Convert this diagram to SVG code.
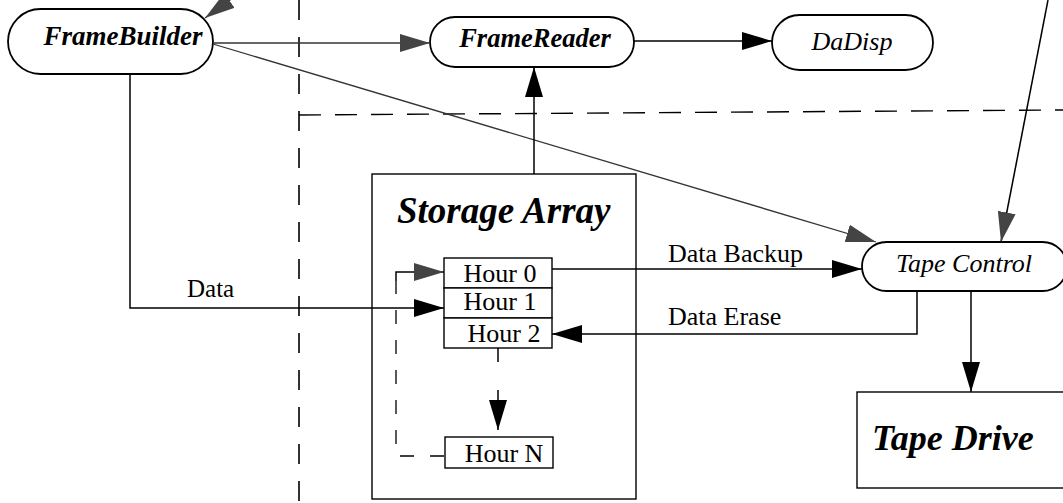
<svg xmlns="http://www.w3.org/2000/svg" width="1063" height="503" viewBox="0 0 1063 503">
<style>
.bg{fill:#fff}
.pill{fill:#fff;stroke:#000;stroke-width:1.8}
.box{fill:#fff;stroke:#000;stroke-width:1.4}
.ln{fill:none;stroke:#000;stroke-width:1.5}
.gl{fill:none;stroke:#333;stroke-width:1.3}
.dash{fill:none;stroke:#000;stroke-width:1.6;stroke-dasharray:20 17}
.dash2{fill:none;stroke:#000;stroke-width:1.4;stroke-dasharray:22 14}
.dash3{fill:none;stroke:#000;stroke-width:1.3;stroke-dasharray:14 16}
.bi{font-family:"Liberation Serif",serif;font-weight:bold;font-style:italic;fill:#000}
.it{font-family:"Liberation Serif",serif;font-style:italic;fill:#000}
.rg{font-family:"Liberation Serif",serif;fill:#000}
</style>
<defs>
<marker id="ab" markerUnits="userSpaceOnUse" markerWidth="30" markerHeight="18" viewBox="0 0 30 18" refX="30" refY="9" orient="auto"><path d="M0,0 L30,9 L0,18 z" fill="#000"/></marker>
<marker id="ag" markerUnits="userSpaceOnUse" markerWidth="30" markerHeight="18" viewBox="0 0 30 18" refX="30" refY="9" orient="auto"><path d="M0,0 L30,9 L0,18 z" fill="#444"/></marker>
</defs>
<rect class="bg" x="0" y="0" width="1063" height="503"/>
<g id="boundaries">
<line class="dash" x1="299" y1="0" x2="299" y2="503"/>
<line class="dash2" x1="299" y1="115" x2="1063" y2="110"/>
</g>
<g id="frame-builder">
<rect class="pill" x="8" y="9" width="205" height="65" rx="32.5"/>
<text class="bi" x="123" y="45" font-size="27" text-anchor="middle">FrameBuilder</text>
</g>
<g id="frame-reader">
<rect class="pill" x="430" y="17" width="204" height="50" rx="25"/>
<text class="bi" x="535" y="47" font-size="26.5" text-anchor="middle">FrameReader</text>
</g>
<g id="dadisp">
<rect class="pill" x="772" y="15" width="161" height="55" rx="27.5"/>
<text class="it" x="852" y="50" font-size="26" text-anchor="middle">DaDisp</text>
</g>
<g id="storage-array">
<rect class="box" x="372" y="174" width="264" height="325"/>
<text class="bi" x="397" y="223" font-size="37">Storage Array</text>
</g>
<g id="hour-0">
<rect class="box" x="444" y="258" width="108" height="30"/>
<text class="rg" x="500" y="282" font-size="26" text-anchor="middle">Hour 0</text>
</g>
<g id="hour-1">
<rect class="box" x="444" y="288" width="108" height="30"/>
<text class="rg" x="500" y="310" font-size="26" text-anchor="middle">Hour 1</text>
</g>
<g id="hour-2">
<rect class="box" x="444" y="318" width="108" height="30"/>
<text class="rg" x="504" y="342" font-size="26" text-anchor="middle">Hour 2</text>
</g>
<g id="hour-n">
<rect class="box" x="445" y="437" width="108" height="31"/>
<text class="rg" x="504" y="462" font-size="26" text-anchor="middle">Hour N</text>
</g>
<g id="tape-control">
<rect class="pill" x="862" y="242" width="205" height="49" rx="24.5"/>
<text class="it" x="964" y="272" font-size="26" text-anchor="middle">Tape Control</text>
</g>
<g id="tape-drive">
<rect class="box" x="857" y="392" width="220" height="96"/>
<text class="bi" x="872" y="450" font-size="36">Tape Drive</text>
</g>
<g id="connectors">
<line class="gl" x1="248" y1="-13" x2="205" y2="18" marker-end="url(#ag)"/>
<line class="gl" x1="213" y1="43" x2="430" y2="43" marker-end="url(#ag)"/>
<line class="gl" x1="213" y1="44" x2="876" y2="242" marker-end="url(#ag)"/>
<line class="ln" x1="634" y1="41" x2="772" y2="41" marker-end="url(#ab)"/>
<line class="ln" x1="534" y1="174" x2="534" y2="67" marker-end="url(#ab)"/>
<line class="ln" x1="1048" y1="0" x2="1001" y2="242" marker-end="url(#ag)"/>
<path class="ln" d="M130,74 L130,308 L444,308" marker-end="url(#ab)"/>
<line class="ln" x1="552" y1="269" x2="862" y2="269" marker-end="url(#ab)"/>
<path class="ln" d="M917,291 L917,334 L552,334" marker-end="url(#ab)"/>
<line class="ln" x1="971" y1="291" x2="971" y2="392" marker-end="url(#ab)"/>
<path class="dash3" d="M444,456 L396,456 L396,281"/>
<path class="ln" d="M396,281 L396,272 L444,272" marker-end="url(#ag)"/>
<line class="ln" x1="498" y1="348" x2="498" y2="362"/>
<line class="ln" x1="498" y1="390" x2="498" y2="430" marker-end="url(#ab)"/>
<text class="rg" x="187" y="297" font-size="25">Data</text>
<text class="rg" x="668" y="262" font-size="26">Data Backup</text>
<text class="rg" x="668" y="325" font-size="26">Data Erase</text>
</g>
</svg>
